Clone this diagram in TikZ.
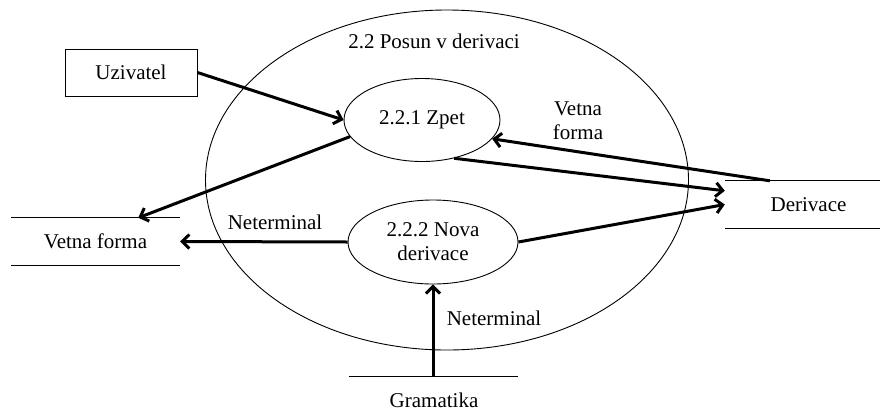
\documentclass[tikz,border=0pt]{standalone}
\usepackage{fontspec}
\setmainfont{Liberation Serif}
\usetikzlibrary{shapes.geometric,arrows.meta}
\begin{document}
\begin{tikzpicture}[x=1pt,y=-1pt,
  font=\fontsize{21}{24}\selectfont,
  proc/.style={ellipse,draw,line width=0.9pt,inner sep=0pt,align=center},
  store/.style={inner sep=0pt,minimum height=47pt},
  flow/.style={line width=3pt,-{Straight Barb[length=7pt,width=14pt,line width=3pt]}},
  lbl/.style={inner sep=0pt,align=center}]
\useasboundingbox (0,0) rectangle (880,418);
% outer process
\node[proc,minimum width=483pt,minimum height=340pt] (main) at (447,180) {};
\node[lbl] (title) at (434,41) {2.2 Posun v derivaci};
% inner processes
\node[proc,minimum width=156pt,minimum height=83pt] (zpet) at (422,120) {2.2.1 Zpet};
\node[proc,minimum width=170pt,minimum height=84pt] (nova) at (433,242) {2.2.2 Nova\\derivace};
% external entity
\node[draw,line width=0.9pt,minimum width=132pt,minimum height=47pt,inner sep=0pt] (uz) at (131,72.5) {Uzivatel};
% stores
\node[store,minimum width=169pt] (vf) at (95.5,241.5) {Vetna forma};
\draw[line width=0.9pt] (vf.north west) -- (vf.north east) (vf.south west) -- (vf.south east);
\node[store,minimum width=155pt] (der) at (802.5,204.5) {\hspace*{12pt}Derivace};
\draw[line width=0.9pt] (der.north west) -- (der.north east) (der.south west) -- (der.south east);
\coordinate (gl) at (349,376);
\coordinate (gr) at (518,376);
\coordinate (gtop) at (433,376);
\draw[line width=0.9pt] (gl) -- (gr);
\node[lbl] (gram) at (434,400) {Gramatika};
% flows
\draw[flow] (uz.east) -- (zpet.west);
\draw[flow] (zpet.193.6) -- (vf.29.5);
\draw[flow] (der.144.1) -- (zpet.-15.2);
\draw[flow] (zpet.-50.8) -- (der.170.8);
\draw[flow] (nova.east) -- (der.west);
\draw[flow] (nova.west) -- (vf.east);
\draw[flow] (gtop) -- (nova.south);
% labels
\node[lbl] (l1) at (578,121) {Vetna\\forma};
\node[lbl] (l2) at (275,222) {Neterminal};
\node[lbl] (l3) at (494,318) {Neterminal};
\end{tikzpicture}
\end{document}
